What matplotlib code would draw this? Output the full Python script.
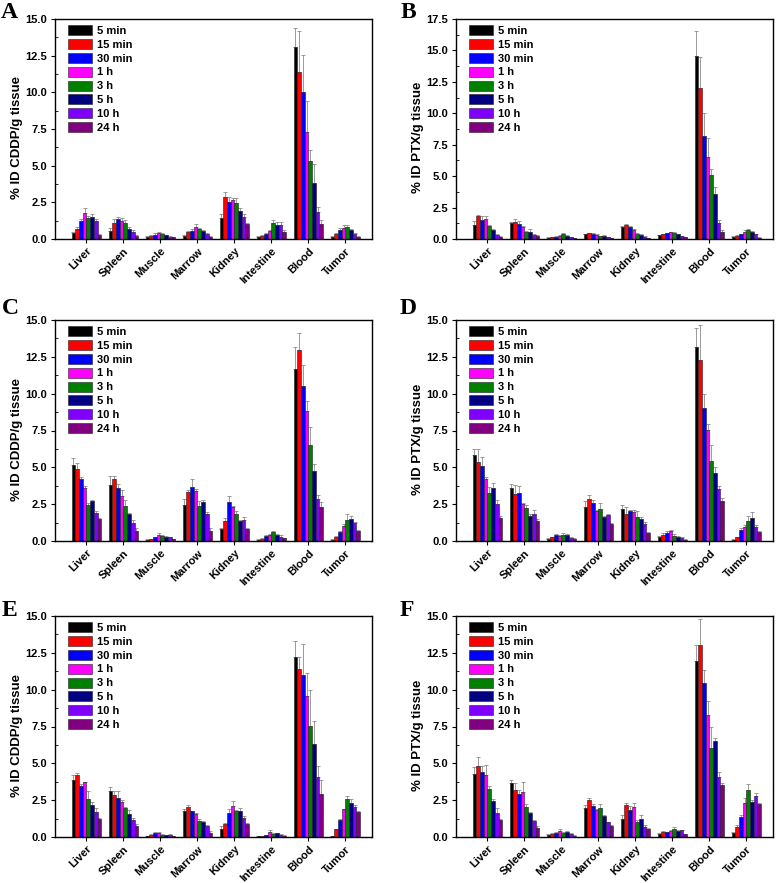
import numpy as np
import matplotlib
matplotlib.use("Agg")
import matplotlib.pyplot as plt
from matplotlib.ticker import MultipleLocator, FormatStrFormatter

plt.rcParams['font.family'] = ['Liberation Sans', 'DejaVu Sans']
plt.rcParams['font.weight'] = 'bold'

organs = ['Liver', 'Spleen', 'Muscle', 'Marrow', 'Kidney', 'Intestine', 'Blood', 'Tumor']
times = ['5 min', '15 min', '30 min', '1 h', '3 h', '5 h', '10 h', '24 h']
colors = ['#000000', '#FF0000', '#0000FF', '#FF00FF', '#008000', '#000080', '#8000FF', '#800080']

# rows = organs, columns = time points
a_mean = [[0.40, 0.65, 1.23, 1.80, 1.46, 1.50, 1.23, 0.30],
          [0.55, 1.06, 1.36, 1.23, 1.11, 0.70, 0.50, 0.22],
          [0.15, 0.22, 0.30, 0.38, 0.33, 0.24, 0.16, 0.12],
          [0.22, 0.47, 0.55, 0.84, 0.67, 0.53, 0.36, 0.16],
          [1.43, 2.87, 2.53, 2.64, 2.48, 1.94, 1.53, 1.00],
          [0.14, 0.23, 0.34, 0.52, 1.09, 0.98, 0.93, 0.48],
          [13.07, 11.38, 10.04, 7.31, 5.30, 3.84, 1.84, 1.02],
          [0.16, 0.34, 0.59, 0.75, 0.82, 0.61, 0.34, 0.16]]
a_err = [[0.10, 0.15, 0.15, 0.30, 0.10, 0.20, 0.10, 0.05],
         [0.20, 0.30, 0.15, 0.20, 0.20, 0.10, 0.10, 0.05],
         [0.03, 0.05, 0.08, 0.08, 0.06, 0.05, 0.04, 0.03],
         [0.05, 0.10, 0.10, 0.15, 0.10, 0.08, 0.08, 0.04],
         [0.25, 0.35, 0.30, 0.15, 0.30, 0.20, 0.20, 0.10],
         [0.05, 0.05, 0.10, 0.10, 0.20, 0.15, 0.20, 0.10],
         [1.30, 2.80, 2.50, 2.10, 0.80, 1.27, 0.32, 0.28],
         [0.05, 0.10, 0.15, 0.20, 0.15, 0.10, 0.05, 0.03]]

b_mean = [[1.13, 1.83, 1.48, 1.63, 1.02, 0.71, 0.32, 0.16],
          [1.24, 1.39, 1.23, 0.99, 0.52, 0.59, 0.33, 0.24],
          [0.10, 0.16, 0.19, 0.26, 0.38, 0.26, 0.16, 0.08],
          [0.37, 0.45, 0.42, 0.34, 0.21, 0.26, 0.16, 0.08],
          [0.99, 1.08, 0.95, 0.74, 0.41, 0.31, 0.18, 0.09],
          [0.29, 0.37, 0.45, 0.53, 0.48, 0.37, 0.21, 0.16],
          [14.59, 12.05, 8.21, 6.51, 5.08, 3.57, 1.24, 0.53],
          [0.19, 0.25, 0.38, 0.58, 0.70, 0.52, 0.38, 0.10]]
b_err = [[0.30, 0.10, 0.35, 0.20, 0.10, 0.10, 0.05, 0.05],
         [0.10, 0.20, 0.20, 0.05, 0.10, 0.20, 0.10, 0.10],
         [0.02, 0.03, 0.04, 0.05, 0.08, 0.05, 0.03, 0.02],
         [0.05, 0.05, 0.04, 0.04, 0.03, 0.04, 0.03, 0.02],
         [0.08, 0.15, 0.06, 0.05, 0.10, 0.06, 0.04, 0.02],
         [0.04, 0.05, 0.06, 0.05, 0.05, 0.05, 0.04, 0.03],
         [1.95, 2.40, 1.80, 1.50, 0.50, 0.55, 0.30, 0.20],
         [0.03, 0.05, 0.05, 0.10, 0.10, 0.08, 0.05, 0.02]]

c_mean = [[5.17, 4.87, 4.19, 3.58, 2.42, 2.70, 1.90, 1.50],
          [3.83, 4.24, 3.60, 3.04, 2.36, 1.81, 1.22, 0.68],
          [0.10, 0.12, 0.25, 0.43, 0.35, 0.30, 0.24, 0.12],
          [2.42, 3.33, 3.67, 3.40, 2.38, 2.65, 1.84, 0.66],
          [0.82, 1.34, 2.63, 2.29, 1.84, 1.36, 1.45, 0.82],
          [0.08, 0.14, 0.35, 0.40, 0.58, 0.42, 0.30, 0.18],
          [11.67, 12.96, 10.49, 8.79, 6.53, 4.76, 2.88, 2.31],
          [0.09, 0.27, 0.61, 1.02, 1.45, 1.50, 1.22, 0.66]]
c_err = [[0.43, 0.40, 0.15, 0.17, 0.13, 0.08, 0.15, 0.05],
         [0.60, 0.20, 0.25, 0.40, 0.40, 0.10, 0.18, 0.22],
         [0.02, 0.03, 0.05, 0.08, 0.08, 0.05, 0.05, 0.03],
         [0.40, 0.15, 0.57, 0.10, 0.35, 0.10, 0.15, 0.25],
         [0.03, 0.25, 0.45, 0.10, 0.20, 0.05, 0.15, 0.08],
         [0.03, 0.05, 0.05, 0.10, 0.12, 0.08, 0.10, 0.05],
         [1.50, 1.15, 1.43, 0.68, 1.22, 0.50, 0.25, 0.36],
         [0.03, 0.08, 0.10, 0.15, 0.35, 0.20, 0.10, 0.10]]

d_mean = [[5.87, 5.37, 5.08, 4.19, 3.29, 3.58, 2.49, 1.59],
          [3.60, 3.20, 3.29, 2.54, 2.27, 1.70, 1.86, 1.34],
          [0.16, 0.25, 0.41, 0.36, 0.43, 0.41, 0.23, 0.14],
          [2.31, 2.88, 2.58, 2.02, 2.20, 1.63, 1.74, 1.18],
          [2.20, 1.81, 2.04, 1.95, 1.63, 1.52, 1.18, 0.57],
          [0.27, 0.41, 0.52, 0.66, 0.36, 0.29, 0.20, 0.09],
          [13.14, 12.28, 9.00, 7.52, 5.44, 4.60, 3.54, 2.72],
          [0.09, 0.25, 0.75, 0.93, 1.36, 1.54, 0.95, 0.63]]
d_err = [[0.40, 0.85, 0.60, 0.15, 0.38, 0.36, 0.27, 0.10],
         [0.25, 0.60, 0.43, 0.06, 0.20, 0.10, 0.27, 0.18],
         [0.03, 0.05, 0.06, 0.08, 0.10, 0.08, 0.05, 0.03],
         [0.40, 0.22, 0.18, 0.08, 0.36, 0.07, 0.10, 0.07],
         [0.22, 0.50, 0.09, 0.13, 0.41, 0.08, 0.12, 0.03],
         [0.05, 0.10, 0.15, 0.10, 0.10, 0.05, 0.05, 0.02],
         [1.30, 2.38, 0.97, 0.45, 1.10, 0.43, 0.18, 0.23],
         [0.02, 0.05, 0.10, 0.15, 0.35, 0.45, 0.15, 0.08]]

e_mean = [[3.86, 4.18, 3.48, 3.70, 2.60, 2.19, 1.69, 1.20],
          [3.09, 2.85, 2.64, 2.35, 1.97, 1.56, 1.17, 0.77],
          [0.05, 0.15, 0.27, 0.28, 0.15, 0.13, 0.15, 0.08],
          [1.77, 2.03, 1.74, 1.55, 1.10, 1.00, 0.75, 0.30],
          [0.56, 0.86, 1.65, 2.10, 1.74, 1.76, 1.31, 0.88],
          [0.05, 0.05, 0.11, 0.34, 0.20, 0.25, 0.14, 0.09],
          [12.20, 11.43, 11.00, 9.58, 7.54, 6.30, 4.07, 2.89],
          [0.08, 0.52, 1.16, 1.88, 2.58, 2.32, 2.05, 1.68]]
e_err = [[0.36, 0.16, 0.12, 0.05, 0.50, 0.16, 0.26, 0.10],
         [0.30, 0.30, 0.50, 0.15, 0.08, 0.30, 0.13, 0.13],
         [0.02, 0.03, 0.04, 0.04, 0.03, 0.03, 0.03, 0.02],
         [0.10, 0.15, 0.05, 0.10, 0.10, 0.10, 0.05, 0.10],
         [0.20, 0.10, 0.25, 0.35, 0.10, 0.20, 0.10, 0.10],
         [0.02, 0.02, 0.05, 0.15, 0.05, 0.05, 0.05, 0.03],
         [1.10, 0.77, 2.10, 1.58, 2.44, 1.58, 0.76, 0.95],
         [0.02, 0.05, 0.05, 0.05, 0.20, 0.25, 0.10, 0.10]]

f_mean = [[4.27, 4.79, 4.38, 4.18, 3.28, 2.44, 1.65, 1.17],
          [3.64, 3.19, 2.89, 3.05, 2.01, 1.63, 1.06, 0.63],
          [0.14, 0.23, 0.27, 0.41, 0.29, 0.34, 0.23, 0.09],
          [1.99, 2.51, 2.10, 1.83, 1.97, 1.42, 0.99, 0.75],
          [1.20, 2.17, 1.81, 2.03, 1.02, 1.20, 0.70, 0.54],
          [0.20, 0.36, 0.32, 0.43, 0.56, 0.41, 0.45, 0.18],
          [11.97, 13.03, 10.48, 8.29, 6.05, 6.51, 4.04, 3.52],
          [0.29, 0.70, 1.33, 2.33, 3.18, 2.39, 2.80, 2.24]]
f_err = [[0.45, 0.63, 0.41, 0.74, 0.17, 0.15, 0.30, 0.08],
         [0.20, 0.50, 0.30, 0.70, 0.20, 0.10, 0.10, 0.10],
         [0.03, 0.05, 0.05, 0.10, 0.05, 0.10, 0.05, 0.02],
         [0.20, 0.15, 0.15, 0.10, 0.30, 0.10, 0.05, 0.05],
         [0.30, 0.15, 0.30, 0.25, 0.15, 0.30, 0.10, 0.10],
         [0.05, 0.05, 0.05, 0.05, 0.10, 0.05, 0.05, 0.05],
         [1.04, 1.74, 0.86, 0.95, 1.43, 0.20, 0.36, 0.14],
         [0.03, 0.10, 0.15, 0.30, 0.45, 0.10, 0.20, 0.10]]

panels = [
    ('A', a_mean, a_err, '% ID CDDP/g tissue', 15.0, [55, 19, 317, 220]),
    ('B', b_mean, b_err, '% ID PTX/g tissue', 17.5, [456, 19, 317, 220]),
    ('C', c_mean, c_err, '% ID CDDP/g tissue', 15.0, [55, 320, 317, 221]),
    ('D', d_mean, d_err, '% ID PTX/g tissue', 15.0, [456, 320, 317, 221]),
    ('E', e_mean, e_err, '% ID CDDP/g tissue', 15.0, [55, 616, 317, 221]),
    ('F', f_mean, f_err, '% ID PTX/g tissue', 15.0, [456, 616, 317, 221]),
]
letter_pos = {'A': (1, 2), 'B': (401, 2), 'C': (2, 298), 'D': (400, 298), 'E': (2, 600), 'F': (400, 600)}

W, H = 776, 883
fig = plt.figure(figsize=(W / 100, H / 100), dpi=100)

x = np.arange(1, len(organs) + 1)
bw = 0.1

for letter, mean, err, ylabel, ymax, (px, py, pw, ph) in panels:
    ax = fig.add_axes([px / W, 1 - (py + ph) / H, pw / W, ph / H])
    mean = np.array(mean)
    err = np.array(err)
    for i, t in enumerate(times):
        xs = x + (i - 3.5) * bw
        ax.bar(xs, mean[:, i], bw, color=colors[i], edgecolor='#202020',
               linewidth=0.4, label=t, zorder=2)
        ax.errorbar(xs, mean[:, i], yerr=[np.zeros(len(organs)), err[:, i]],
                    fmt='none', ecolor='#8a8a8a', elinewidth=0.6, capsize=1.5,
                    capthick=0.6, zorder=1)
    ax.set_xlim(0.15, 8.72)
    ax.set_ylim(0, ymax)
    ax.yaxis.set_major_locator(MultipleLocator(2.5))
    ax.yaxis.set_minor_locator(MultipleLocator(1.25))
    ax.yaxis.set_major_formatter(FormatStrFormatter('%.1f'))
    ax.set_xticks(x)
    ax.set_xticklabels(organs, rotation=45, ha='right', rotation_mode='anchor',
                       fontsize=8, fontweight='bold')
    ax.tick_params(axis='y', which='major', direction='out', length=3, width=0.8,
                   labelsize=8, pad=2.5)
    ax.tick_params(axis='y', which='minor', direction='in', length=2, width=0.6)
    ax.tick_params(axis='x', which='major', direction='out', length=3, width=0.8, pad=2)
    for s in ax.spines.values():
        s.set_linewidth(1.0)
    ax.set_ylabel(ylabel, fontsize=9.5, fontweight='bold')
    ax.yaxis.set_label_coords(-0.1, 0.46)
    ax.legend(loc='upper left', bbox_to_anchor=(13 / pw, 1 - 6 / ph), frameon=False,
              fontsize=8, handlelength=2.2, handleheight=1.0, labelspacing=0.28,
              handletextpad=0.45, borderaxespad=0, borderpad=0)
    lx, ly = letter_pos[letter]
    fig.text(lx / W, 1 - ly / H, letter, fontsize=17, fontweight='bold',
             family=['Liberation Serif', 'DejaVu Serif'], ha='left', va='top')

fig.savefig('out.png', dpi=100)
